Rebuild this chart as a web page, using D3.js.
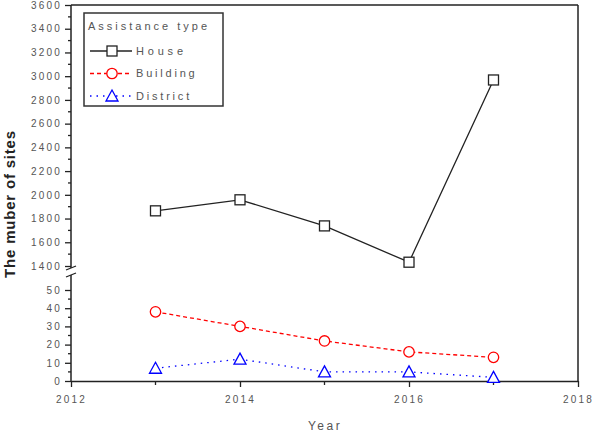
<!DOCTYPE html>
<html>
<head>
  <script src="https://cdn.jsdelivr.net/npm/d3@7"></script>
  <style>
    body { margin: 0; background: #fff; }
    text { font-family: Arial, "Liberation Sans", sans-serif; }
  </style>
</head>
<body>
  <svg id="chart" width="595" height="434"></svg>
  <script>
    var years = [2013, 2014, 2015, 2016, 2017];
    var house = [1865, 1958, 1738, 1432, 2968];
    var building = [38, 30, 22, 16, 13];
    var district = [7, 12, 5, 5, 2];
    var xTicks = [2012, 2014, 2016, 2018];
    var upperTicks = d3.range(1400, 3601, 200);
    var lowerTicks = [0, 10, 20, 30, 40, 50];

    var svg = d3.select("#chart"),
      pLeft = 71, pRight = 578, pTop = 5, pBottom = 381;

    var x = d3.scaleLinear().domain([2012, 2018]).range([pLeft, pRight]);
    var yUp = d3.scaleLinear().domain([1400, 3600]).range([266, pTop]);
    var yLow = d3.scaleLinear().domain([0, 50]).range([pBottom, 290]);

    var axisColor = "#222", labelColor = "#555";

    // frame: top, right
    svg.append("line").attr("x1", pLeft).attr("x2", pRight).attr("y1", pTop).attr("y2", pTop)
      .attr("stroke", axisColor).attr("stroke-width", 1.5);
    svg.append("line").attr("x1", pRight).attr("x2", pRight).attr("y1", pTop).attr("y2", pBottom)
      .attr("stroke", axisColor).attr("stroke-width", 1.5);

    // x axis
    var xAxis = svg.append("g").attr("transform", "translate(0," + pBottom + ")")
      .call(d3.axisBottom(x).tickValues(xTicks).tickFormat(d3.format("d")).tickSize(6).tickSizeOuter(0));
    xAxis.select(".domain").attr("stroke", axisColor).attr("stroke-width", 1.5);
    xAxis.selectAll(".tick line").attr("stroke", axisColor).attr("stroke-width", 1.3);
    xAxis.selectAll("text").attr("fill", labelColor).attr("font-size", 10)
      .style("letter-spacing", "2.2px").attr("dy", "1.3em");
    svg.append("g").selectAll("line").data(years.filter(d => d % 2 === 1)).enter().append("line")
      .attr("x1", d => x(d)).attr("x2", d => x(d)).attr("y1", pBottom).attr("y2", pBottom + 4)
      .attr("stroke", axisColor).attr("stroke-width", 1.3);

    // upper y axis
    var upAxis = svg.append("g").attr("transform", "translate(" + pLeft + ",0)")
      .call(d3.axisLeft(yUp).tickValues(upperTicks).tickFormat(d3.format("d")).tickSize(6).tickSizeOuter(0));
    upAxis.select(".domain").remove();
    svg.append("line").attr("x1", pLeft).attr("x2", pLeft).attr("y1", pTop).attr("y2", 268)
      .attr("stroke", axisColor).attr("stroke-width", 1.5);

    // lower y axis
    var lowAxis = svg.append("g").attr("transform", "translate(" + pLeft + ",0)")
      .call(d3.axisLeft(yLow).tickValues(lowerTicks).tickSize(6).tickSizeOuter(0));
    lowAxis.select(".domain").remove();
    svg.append("line").attr("x1", pLeft).attr("x2", pLeft).attr("y1", 275).attr("y2", pBottom)
      .attr("stroke", axisColor).attr("stroke-width", 1.5);

    [upAxis, lowAxis].forEach(a => {
      a.selectAll(".tick line").attr("stroke", axisColor).attr("stroke-width", 1.3);
      a.selectAll("text").attr("fill", labelColor).attr("font-size", 10)
        .style("letter-spacing", "2.2px").attr("x", -9);
    });

    // minor y ticks
    svg.append("g").selectAll("line").data(d3.range(1500, 3600, 200)).enter().append("line")
      .attr("x1", pLeft - 3).attr("x2", pLeft).attr("y1", d => yUp(d)).attr("y2", d => yUp(d))
      .attr("stroke", axisColor).attr("stroke-width", 1.3);
    svg.append("g").selectAll("line").data(d3.range(5, 50, 10)).enter().append("line")
      .attr("x1", pLeft - 3).attr("x2", pLeft).attr("y1", d => yLow(d)).attr("y2", d => yLow(d))
      .attr("stroke", axisColor).attr("stroke-width", 1.3);

    // break marks
    [268, 275].forEach(yy => {
      svg.append("line").attr("x1", pLeft - 5).attr("x2", pLeft + 5).attr("y1", yy + 2).attr("y2", yy - 2)
        .attr("stroke", axisColor).attr("stroke-width", 1.3);
    });

    // series
    var series = [
      { name: "House", values: house, y: yUp, color: "#222", dash: null, marker: "square" },
      { name: "Building", values: building, y: yLow, color: "#f00", dash: "4,3", marker: "circle" },
      { name: "District", values: district, y: yLow, color: "#00f", dash: "1.5,5", marker: "triangle" }
    ];

    function marker(sel, type, color) {
      if (type === "square") {
        sel.append("rect").attr("x", -5).attr("y", -5).attr("width", 10).attr("height", 10)
          .attr("fill", "#fff").attr("stroke", color).attr("stroke-width", 1.3);
      } else if (type === "circle") {
        sel.append("circle").attr("r", 5.2).attr("fill", "#fff").attr("stroke", color).attr("stroke-width", 1.3);
      } else {
        sel.append("path").attr("d", "M0,-6L6,5L-6,5Z").attr("fill", "#fff")
          .attr("stroke", color).attr("stroke-width", 1.3);
      }
    }

    series.forEach(s => {
      var line = d3.line().x((d, i) => x(years[i])).y(d => s.y(d));
      svg.append("path").datum(s.values).attr("d", line).attr("fill", "none")
        .attr("stroke", s.color).attr("stroke-width", 1.3).attr("stroke-dasharray", s.dash);
      svg.append("g").selectAll("g").data(s.values).enter().append("g")
        .attr("transform", (d, i) => "translate(" + x(years[i]) + "," + s.y(d) + ")")
        .each(function () { marker(d3.select(this), s.marker, s.color); });
    });

    // legend
    var lg = svg.append("g").attr("transform", "translate(84,13)");
    lg.append("rect").attr("width", 139).attr("height", 93).attr("fill", "#fff")
      .attr("stroke", "#333").attr("stroke-width", 1.5);
    lg.append("text").attr("x", 4).attr("y", 17).attr("font-size", 11).attr("fill", labelColor)
      .style("letter-spacing", "3px").text("Assistance type");
    series.forEach((s, i) => {
      var row = lg.append("g").attr("transform", "translate(0," + (38 + i * 22.5) + ")");
      row.append("line").attr("x1", 6).attr("x2", 48).attr("stroke", s.color).attr("stroke-width", 1.3)
        .attr("stroke-dasharray", s.dash);
      marker(row.append("g").attr("transform", "translate(28,0)"), s.marker, s.color);
      row.append("text").attr("x", 52).attr("dy", "0.35em").attr("font-size", 11).attr("fill", labelColor)
        .style("letter-spacing", i === 0 ? "3.8px" : "2.8px").text(s.name);
    });

    // axis titles
    svg.append("text").attr("transform", "translate(15,204) rotate(-90)").attr("text-anchor", "middle")
      .attr("font-size", 15).attr("font-weight", "bold").attr("fill", "#222")
      .style("letter-spacing", "0.8px").text("The muber of sites");
    svg.append("text").attr("x", 325).attr("y", 430).attr("text-anchor", "middle")
      .attr("font-size", 12).attr("fill", labelColor).style("letter-spacing", "2.5px").text("Year");
  </script>
</body>
</html>
